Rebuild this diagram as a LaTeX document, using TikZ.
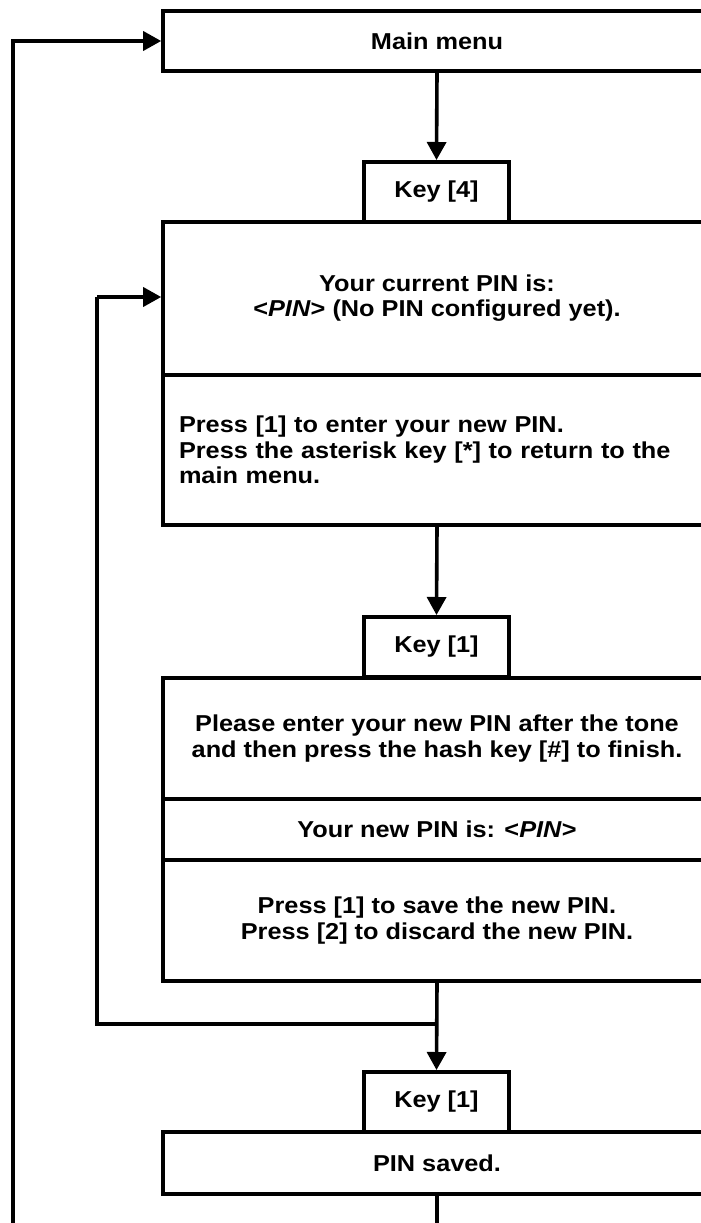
\documentclass[tikz,border=0pt]{standalone}
\usepackage{fontspec}
\setmainfont{Liberation Sans}[FakeStretch=1.1]
\usetikzlibrary{arrows.meta}
\begin{document}
\begin{tikzpicture}[x=1pt,y=-1pt,
  line width=3.6pt,
  every node/.style={font=\fontsize{23}{25.5}\selectfont\bfseries},
  wide/.style={draw, line width=3.6pt, minimum width=548pt, inner sep=0pt, align=center, anchor=north},
  keybox/.style={draw, line width=3.6pt, minimum width=145pt, minimum height=60pt, inner sep=0pt, anchor=north},
  flow/.style={-{Triangle[length=18pt,width=19pt]}}
]
\useasboundingbox (0,0) rectangle (701,1223);
\clip (0,0) rectangle (701,1223);

% screens and key presses
\node[wide, minimum height=60pt]  (main)   at (437,9)   {Main menu};
\node[keybox]                      (keyA)   at (436.5,160) {Key [4]};
\node[wide, minimum height=153pt] (cur)    at (437,220) {Your current PIN is:\\<\textit{PIN}> (No PIN configured yet).};
\node[wide, minimum height=150pt, text width=516pt, align=left] (opts) at (437,373)
  {Press [1] to enter your new PIN.\\Press the asterisk key [*] to return to the\\main menu.};
\node[keybox]                      (keyB)   at (436.5,615) {Key [1]};
\node[wide, minimum height=121pt] (enter)  at (437,676) {Please enter your new PIN after the tone\\and then press the hash key [\#] to finish.};
\node[wide, minimum height=61pt]  (newpin) at (437,797) {Your new PIN is: <\textit{PIN}>};
\node[wide, minimum height=121pt] (save)   at (437,858) {Press [1] to save the new PIN.\\Press [2] to discard the new PIN.};
\node[keybox]                      (keyC)   at (436.5,1070) {Key [1]};
\node[wide, minimum height=62pt]  (saved)  at (437,1130) {PIN saved.};

% helper points for the loops
\coordinate (split) at (437,1024);
\coordinate (innerL) at (97,1024);
\coordinate (innerT) at (97,297);
\coordinate (outerB) at (13,1240);
\coordinate (outerT) at (13,41);
\coordinate (down)   at (437,1240);

% connectors
\draw[flow] (main.south) -- (keyA.north);
\draw[flow] (opts.south) -- (keyB.north);
\draw[flow] (save.south) -- (keyC.north);
\draw[line join=miter] (split) -- (innerL) -- (innerT);
\draw[flow] (innerT) -- (cur.west |- innerT);
\draw (saved.south) -- (down);
\draw[flow] (outerB) -- (outerT) -- (main.west |- outerT);
\end{tikzpicture}
\end{document}
